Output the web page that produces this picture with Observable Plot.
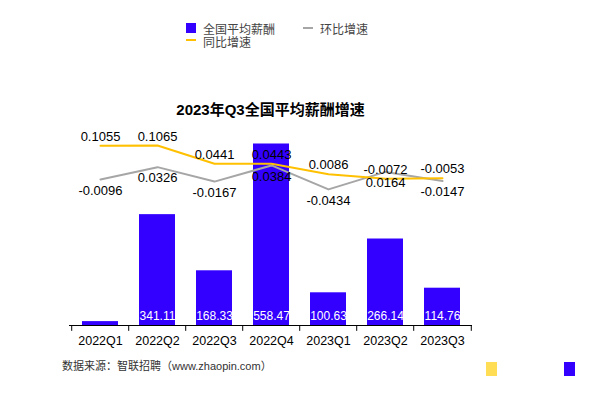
<!DOCTYPE html>
<html><head><meta charset="utf-8">
<script src="https://cdn.jsdelivr.net/npm/d3@7"></script>
<script src="https://cdn.jsdelivr.net/npm/@observablehq/plot@0.6"></script>
<style>
body{margin:0;background:#fff;font-family:"Liberation Sans","Noto Sans CJK SC",sans-serif;}
#wrap{position:relative;width:610px;height:394px;overflow:hidden;}
#wrap svg{position:absolute;left:0;top:0;background:transparent;}
.t{position:absolute;white-space:nowrap;}
.sw{position:absolute;}
</style></head><body>
<div id="wrap">
  <div class="sw" style="left:186px;top:23px;width:10px;height:10px;background:#3300FF"></div>
  <div class="t" style="left:203px;top:20px;font-size:12px;color:#444;">全国平均薪酬</div>
  <div class="sw" style="left:303px;top:27px;width:10px;height:2px;background:#A6A6A6"></div>
  <div class="t" style="left:320px;top:20px;font-size:12px;color:#444;">环比增速</div>
  <div class="sw" style="left:186px;top:39px;width:10px;height:2px;background:#FFC000"></div>
  <div class="t" style="left:203px;top:33px;font-size:12px;color:#444;">同比增速</div>
  <div class="t" style="left:0;width:541px;text-align:center;top:98px;font-size:15px;font-weight:bold;color:#000;">2023年Q3全国平均薪酬增速</div>
  <div class="t" style="left:62px;top:357px;font-size:11px;color:#333;">数据来源：智联招聘（www.zhaopin.com）</div>
  <div class="sw" style="left:486px;top:362px;width:11px;height:14px;background:#FFDD55"></div>
  <div class="sw" style="left:564px;top:362px;width:11px;height:14px;background:#3300FF"></div>
</div>
<script>
const quarters = ["2022Q1","2022Q2","2022Q3","2022Q4","2023Q1","2023Q2","2023Q3"];
const salary = [12, 341.11, 168.33, 558.47, 100.63, 266.14, 114.76];
const salaryLabels = ["", "341.11", "168.33", "558.47", "100.63", "266.14", "114.76"];
const yoy = [0.1055, 0.1065, 0.0441, 0.0443, 0.0086, -0.0072, -0.0053];
const qoq = [-0.0096, 0.0326, -0.0167, 0.0384, -0.0434, 0.0164, -0.0147];

const W = 610, H = 394, ML = 69, MR = 138;
const step = (W - ML - MR) / quarters.length;
const bars = quarters.map((q, i) => ({q, v: salary[i], label: salaryLabels[i]}));
const yoyData = quarters.map((q, i) => ({q, v: yoy[i]}));
const qoqData = quarters.map((q, i) => ({q, v: qoq[i]}));
const font = "Liberation Sans, Noto Sans CJK SC, sans-serif";

const barPlot = Plot.plot({
  width: W, height: H,
  marginLeft: ML, marginRight: MR, marginTop: 130, marginBottom: 69,
  style: {fontFamily: font, background: "transparent", overflow: "visible"},
  x: {type: "band", domain: quarters, paddingInner: 0.375, paddingOuter: 0.1875, label: null},
  y: {domain: [0, 600], axis: null},
  marks: [
    Plot.barY(bars, {x: "q", y: "v", fill: "#3300FF"}),
    Plot.ruleY([0], {stroke: "#000", strokeWidth: 1}),
    Plot.ruleX(quarters, {x: d => d, dx: -step / 2, y1: 0, y2: -18, stroke: "#000"}),
    Plot.ruleX(quarters.slice(-1), {x: d => d, dx: step / 2, y1: 0, y2: -18, stroke: "#000"}),
    Plot.axisX({tickSize: 0, tickPadding: 11, fontSize: 12.5, fill: "#000", label: null}),
    Plot.text(bars, {x: "q", y: 0, text: "label", dy: -9, fill: "#fff", fontSize: 12})
  ]
});

const linePlot = Plot.plot({
  width: W, height: H,
  marginLeft: ML, marginRight: MR, marginTop: 132.25, marginBottom: 188.5,
  style: {fontFamily: font, background: "transparent", overflow: "visible"},
  x: {type: "point", domain: quarters, padding: 0.5, axis: null},
  y: {domain: [-0.1, 0.15], axis: null},
  marks: [
    Plot.line(qoqData, {x: "q", y: "v", stroke: "#A6A6A6", strokeWidth: 2}),
    Plot.line(yoyData, {x: "q", y: "v", stroke: "#FFC000", strokeWidth: 2}),
    Plot.text(yoyData, {x: "q", y: "v", text: d => d.v.toFixed(4), dy: -9, fill: "#000", fontSize: 13}),
    Plot.text(qoqData, {x: "q", y: "v", text: d => d.v.toFixed(4), dy: 11, fill: "#000", fontSize: 13})
  ]
});

const wrap = document.getElementById("wrap");
wrap.insertBefore(linePlot, wrap.firstChild);
wrap.insertBefore(barPlot, wrap.firstChild);
</script>
</body></html>
